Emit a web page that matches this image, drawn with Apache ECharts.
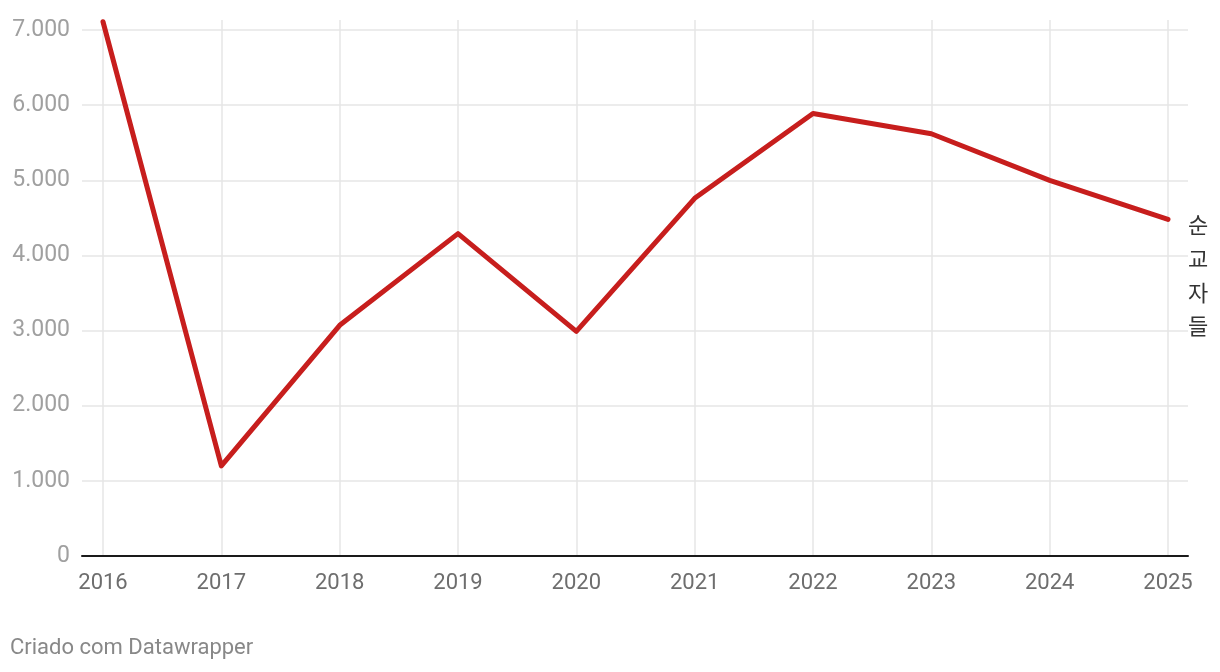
<!DOCTYPE html>
<html>
<head>
<meta charset="utf-8">
<script src="https://cdn.jsdelivr.net/npm/echarts@6/dist/echarts.min.js"></script>
<style>
html,body{margin:0;padding:0;background:#fff;}
#chart{width:1220px;height:672px;}
</style>
</head>
<body>
<div id="chart"></div>
<script>
const years = ['2016','2017','2018','2019','2020','2021','2022','2023','2024','2025'];
const martyrs = [7110, 1200, 3070, 4290, 2990, 4760, 5890, 5620, 5000, 4480];
const seriesLabel = '순교자들';
const footer = 'Criado com Datawrapper';

const chart = echarts.init(document.getElementById('chart'));
const font = 'Roboto, "Noto Sans CJK KR", sans-serif';
chart.setOption({
  animation: false,
  backgroundColor: '#fff',
  grid: [
    {left: 82, right: 32, top: 30, bottom: 116},
    {left: 103, right: 52, top: 20, bottom: 116}
  ],
  xAxis: [
    {gridIndex: 0, type: 'value', min: 0, max: 1, show: true,
     axisLine: {show: true, lineStyle: {color: '#1a1a1a', width: 2}},
     axisTick: {show: false}, axisLabel: {show: false}, splitLine: {show: false}},
    {gridIndex: 1, type: 'category', data: years, boundaryGap: false,
     axisLine: {show: false}, axisTick: {show: false},
     axisLabel: {color: '#6e6e6e', fontSize: 22, fontFamily: font, margin: 16},
     splitLine: {show: true, lineStyle: {color: '#e6e6e6', width: 1.5}}}
  ],
  yAxis: [
    {gridIndex: 0, type: 'value', min: 0, max: 7000, interval: 1000,
     axisLine: {show: false}, axisTick: {show: false},
     axisLabel: {color: '#a0a0a0', fontSize: 23, fontFamily: font, margin: 12,
       formatter: v => v === 0 ? '0' : (v/1000) + '.000'},
     splitLine: {show: true, lineStyle: {color: '#e6e6e6', width: 1.5}}},
    {gridIndex: 1, type: 'value', min: 0, max: 7000 * 535 / 525, show: false,
     splitLine: {show: false}}
  ],
  series: [{
    type: 'line', xAxisIndex: 1, yAxisIndex: 1, data: martyrs,
    symbol: 'none', z: 5,
    lineStyle: {color: '#c71e1d', width: 5, cap: 'round', join: 'round'}
  }],
  graphic: [
    {type: 'text', left: 1188, top: 208,
     style: {text: seriesLabel.split('').join('\n'), fill: '#333', fontSize: 22,
       lineHeight: 33.7, fontFamily: '"Noto Sans CJK KR", sans-serif'}},
    {type: 'text', left: 10, top: 637,
     style: {text: footer, fill: '#888', fontSize: 22, fontFamily: font}}
  ]
});
</script>
</body>
</html>
